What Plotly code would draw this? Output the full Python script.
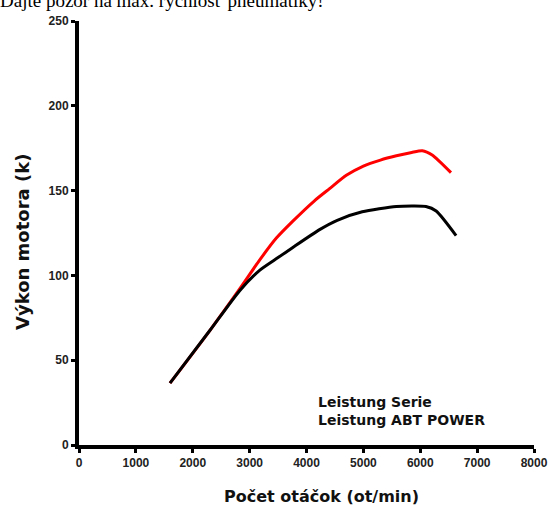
import plotly.graph_objects as go

rpm_abt = [1600, 2300, 2825, 3175, 3470, 3760, 4140, 4400, 4700, 5000, 5300, 5580, 5850, 6035, 6210, 6540]
power_abt = [36.5, 67.5, 92, 109, 122, 132, 144, 151, 159, 164.5, 168, 170.5, 172.5, 173.5, 171, 160.6]

rpm_serie = [1600, 2300, 2825, 3175, 3500, 3760, 4230, 4540, 4980, 5580, 6100, 6280, 6630]
power_serie = [36.5, 67.5, 91, 103, 110.5, 116.5, 127, 132.5, 137.5, 140.6, 140.6, 138, 123.5]

x_ticks = [0, 1000, 2000, 3000, 4000, 5000, 6000, 7000, 8000]
y_ticks = [0, 50, 100, 150, 200, 250]

fig = go.Figure()
fig.add_trace(go.Scatter(x=rpm_abt, y=power_abt, mode="lines",
                         line=dict(color="#ff0000", width=3, shape="spline", smoothing=0.6),
                         name="Leistung ABT POWER", showlegend=False))
fig.add_trace(go.Scatter(x=rpm_serie, y=power_serie, mode="lines",
                         line=dict(color="#000000", width=3, shape="spline", smoothing=0.6),
                         name="Leistung Serie", showlegend=False))

tickfont = dict(family="Liberation Sans", size=12, color="#222", weight="bold")
fig.update_layout(
    width=548, height=506,
    margin=dict(l=79, r=14, t=21, b=61, autoexpand=False),
    paper_bgcolor="white", plot_bgcolor="white",
    xaxis=dict(range=[0, 8000], tickvals=x_ticks, ticktext=[str(v) for v in x_ticks],
               automargin=False,
               showgrid=False, zeroline=False, showline=True, linecolor="black", linewidth=4,
               ticks="outside", ticklen=4, tickwidth=3, tickcolor="black", tickfont=tickfont),
    yaxis=dict(range=[0, 250], tickvals=y_ticks, ticktext=[str(v) for v in y_ticks],
               automargin=False,
               showgrid=False, zeroline=False, showline=True, linecolor="black", linewidth=4,
               ticks="outside", ticklen=4, tickwidth=3, tickcolor="black", tickfont=tickfont),
    annotations=[
        dict(text="Dajte pozor na max. rýchlosť pneumatiky!", xref="paper", yref="paper",
             x=-81/455, y=1 + 8/424, xanchor="left", yanchor="bottom", showarrow=False,
             font=dict(family="Liberation Serif", size=19, color="black")),
        dict(text="Výkon motora (k)", xref="paper", yref="paper", x=-57/455, y=(445-242)/424,
             xanchor="center", yanchor="middle", textangle=-90, showarrow=False,
             font=dict(family="DejaVu Sans", size=18, color="#111", weight="bold")),
        dict(text="Počet otáčok (ot/min)", xref="paper", yref="paper", x=(321-79)/455, y=-51/424,
             xanchor="center", yanchor="middle", showarrow=False,
             font=dict(family="DejaVu Sans", size=16, color="#111", weight="bold")),
        dict(text="Leistung Serie<br>Leistung ABT POWER", xref="paper", yref="paper",
             x=(316-79)/455, y=(445-392)/424, xanchor="left", yanchor="top", align="left",
             showarrow=False,
             font=dict(family="DejaVu Sans", size=14, color="#111", weight="bold")),
    ],
)
fig.write_html("out.html", config={"displayModeBar": False},
               post_script="document.body.style.margin='0';")
